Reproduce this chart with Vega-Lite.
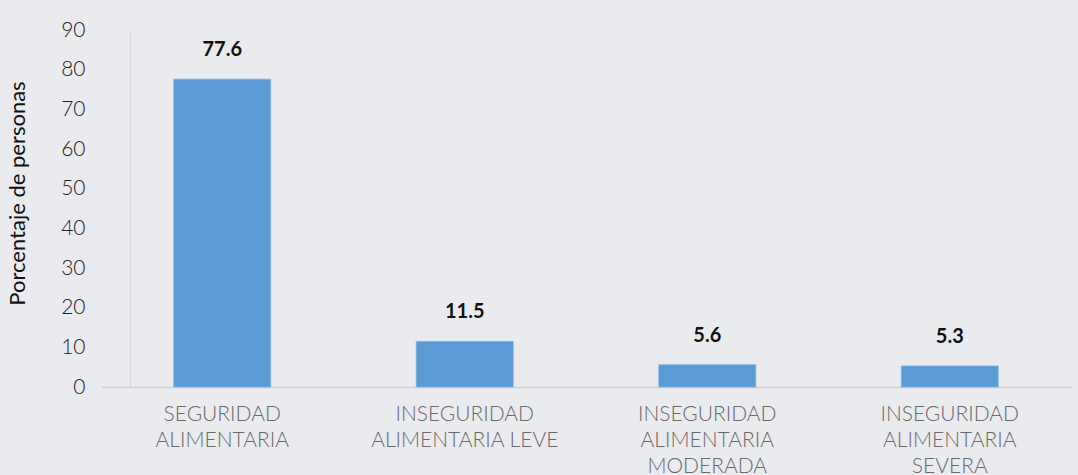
{
  "$schema": "https://vega.github.io/schema/vega-lite/v6.json",
  "width": 970,
  "height": 357,
  "autosize": {"type": "none"},
  "padding": {"left": 101, "top": 30, "right": 7, "bottom": 88},
  "background": "#eaebef",
  "config": {"view": {"stroke": null}, "font": "Lato"},
  "data": {
    "values": [
      {"categoria": "SEGURIDAD|ALIMENTARIA", "orden": 1, "valor": 77.6},
      {"categoria": "INSEGURIDAD|ALIMENTARIA LEVE", "orden": 2, "valor": 11.5},
      {"categoria": "INSEGURIDAD|ALIMENTARIA|MODERADA", "orden": 3, "valor": 5.6},
      {"categoria": "INSEGURIDAD|ALIMENTARIA|SEVERA", "orden": 4, "valor": 5.3}
    ]
  },
  "encoding": {
    "x": {
      "field": "categoria",
      "type": "nominal",
      "sort": {"field": "orden"},
      "scale": {"paddingInner": 0.6, "paddingOuter": 0.3},
      "axis": {
        "title": null,
        "labelAngle": 0,
        "labelExpr": "split(datum.label, '|')",
        "labelFontSize": 21,
        "labelFontWeight": 300,
        "labelColor": "#6a6a6a",
        "labelLineHeight": 26,
        "labelPadding": 16,
        "labelLimit": 0,
        "ticks": false,
        "domainColor": "#cfd0d4",
        "domainWidth": 1.5,
        "labelBaseline": "top"
      }
    },
    "y": {
      "field": "valor",
      "type": "quantitative",
      "scale": {"domain": [0, 90]},
      "axis": {
        "title": "Porcentaje de personas",
        "titleFontSize": 22,
        "titleFontWeight": "normal",
        "titleColor": "#111111",
        "titlePadding": 31,
        "titleY": 163,
        "values": [0, 10, 20, 30, 40, 50, 60, 70, 80, 90],
        "labelFontSize": 21,
        "labelFontWeight": 300,
        "labelColor": "#222222",
        "grid": false,
        "ticks": false,
        "offset": -29,
        "labelPadding": 45,
        "domainColor": "#d6d7db"
      }
    }
  },
  "layer": [
    {"mark": {"type": "bar", "color": "#5b9bd5", "stroke": "#7fb1e0", "strokeWidth": 0.8}},
    {
      "mark": {"type": "text", "dy": -23, "fontSize": 20, "fontWeight": "bold", "color": "#111111", "baseline": "alphabetic"},
      "encoding": {"text": {"field": "valor", "type": "quantitative", "format": ".1f"}}
    }
  ]
}
